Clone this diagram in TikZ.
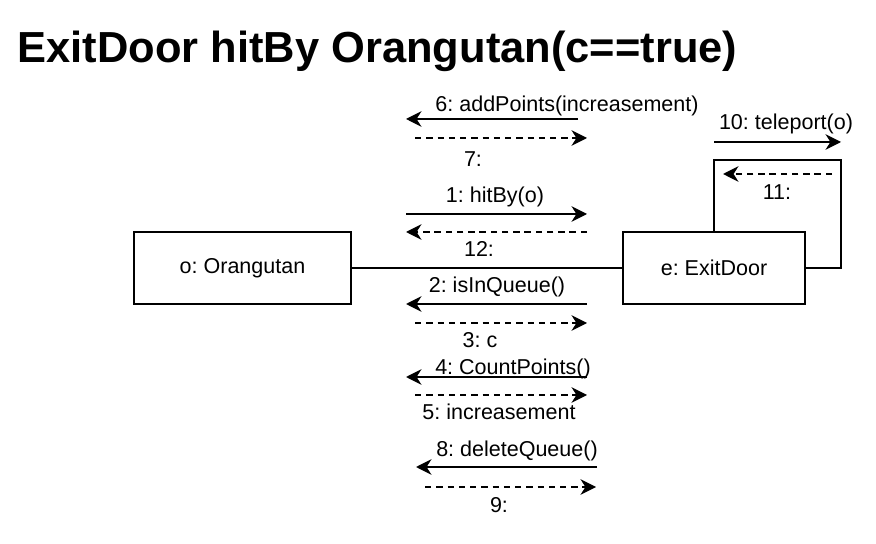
\documentclass[tikz,border=0pt]{standalone}
\usepackage{fontspec}
\setmainfont{Liberation Sans}
\usetikzlibrary{arrows.meta,positioning}
\frenchspacing

\begin{document}
\begin{tikzpicture}[x=0.025cm,y=-0.025cm,line width=1.1pt,
  obj/.style={draw,line width=1.1pt,minimum height=1.8cm,font=\fontsize{15.3}{18}\selectfont},
  msg/.style={-{Stealth[length=11pt,width=11pt,inset=3.5pt]}},
  ret/.style={msg,dash pattern=on 4.5pt off 3.5pt},
  lbl/.style={anchor=base,inner sep=0pt,font=\fontsize{15.3}{18}\selectfont}]
\useasboundingbox (0,0) rectangle (876,544);
\node[anchor=base west,inner sep=0pt,font=\fontsize{30.9}{36}\selectfont\bfseries] (title) at (17,63) {ExitDoor hitBy Orangutan(c==true)};

% objects
\node[obj,minimum width=5.425cm] (orang) at (242.5,268) {o: Orangutan};
\node[obj,minimum width=4.55cm] (door) at (714,268) {e: ExitDoor};
\draw (orang) -- (door);

% self link of the door
\coordinate (loop) at (841,160);
\draw (door.north) |- (loop) |- (door.east);

% messages: name/from/to/y
\foreach \n/\xa/\xb/\y in {6/578/406/119, 1/406/587/214, 2/587/406/304, 4/587/406/377, 8/597/416/467, 10/714/841/142}{
  \coordinate (s\n) at (\xa,\y);
  \coordinate (e\n) at (\xb,\y);
  \draw[msg] (s\n) -- (e\n);
}
% replies
\foreach \n/\xa/\xb/\y in {7/415/587/138, 12/587/406/232, 3/415/587/323, 5/415/587/395, 9/425/596/487, 11/832/723/174}{
  \coordinate (s\n) at (\xa,\y);
  \coordinate (e\n) at (\xb,\y);
  \draw[ret] (s\n) -- (e\n);
}

% labels
\node[lbl] (l6) at (567,112) {6: addPoints(increasement)};
\node[lbl] (l7) at (473,167) {7:};
\node[lbl] (l1) at (495,203) {1: hitBy(o)};
\node[lbl] (l12) at (479,257) {12:};
\node[lbl] (l2) at (497,293) {2: isInQueue()};
\node[lbl] (l3) at (480,348) {3: c};
\node[lbl] (l4) at (513,375) {4: CountPoints()};
\node[lbl] (l5) at (499,420) {5: increasement};
\node[lbl] (l8) at (517,457) {8: deleteQueue()};
\node[lbl] (l9) at (499,513) {9:};
\node[lbl] (l10) at (786,130) {10: teleport(o)};
\node[lbl] (l11) at (777,200) {11:};
\end{tikzpicture}
\end{document}
